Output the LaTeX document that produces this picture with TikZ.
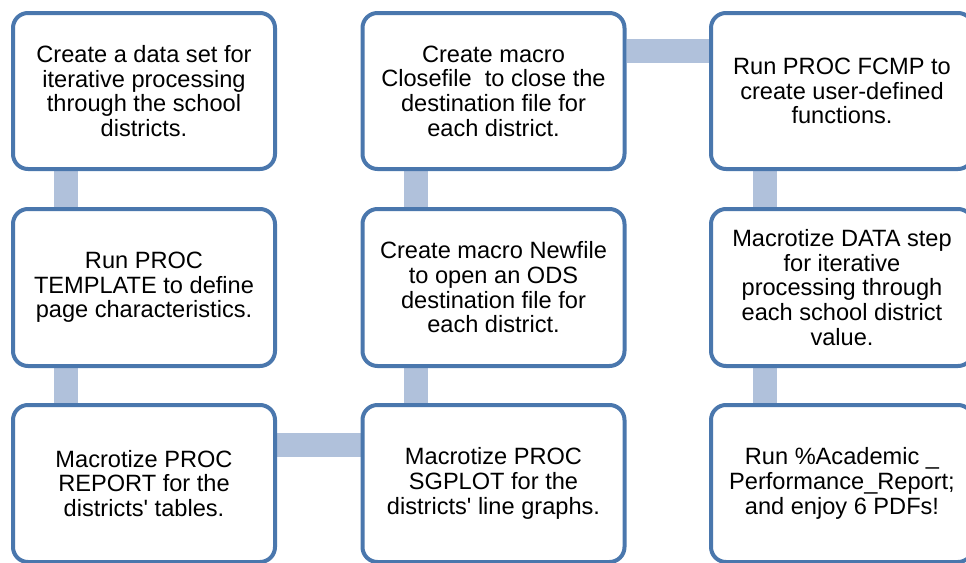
\documentclass[tikz,border=0pt]{standalone}
\usepackage{fontspec}
\setmainfont{Liberation Sans}[Ligatures=TeXOff]
\usetikzlibrary{backgrounds}
\definecolor{boxline}{HTML}{4A77AD}
\definecolor{connfill}{HTML}{B0C1DB}
\begin{document}
\begin{tikzpicture}[x=1pt,y=-1pt,
  stepbox/.style={draw=boxline, line width=4pt, fill=white, rounded corners=15pt,
    minimum width=262pt, minimum height=157pt, align=center, inner sep=0pt,
    font=\fontsize{23.6}{24.7}\selectfont},
  conn/.style={draw=connfill, line width=24pt}]
\useasboundingbox (0,0) rectangle (966,562);
\node[stepbox, minimum height=156pt] (b1) at (144,91) {Create a data set for\\iterative processing\\through the school\\districts.};
\node[stepbox] (b2) at (144,287.5) {Run PROC\\TEMPLATE to define\\page characteristics.};
\node[stepbox] (b3) at (144,483.5) {Macrotize PROC\\REPORT for the\\districts' tables.};
\node[stepbox] (b4) at (493.5,483.5) {Macrotize PROC\\SGPLOT for the\\districts' line graphs.};
\node[stepbox] (b5) at (493.5,287.5) {Create macro Newfile\\to open an ODS\\destination file for\\each district.};
\node[stepbox, minimum height=156pt] (b6) at (493.5,91) {Create macro\\Closefile\ \ to close the\\destination file for\\each district.};
\node[stepbox, minimum height=156pt] (b7) at (842,91) {Run PROC FCMP to\\create user-defined\\functions.};
\node[stepbox] (b8) at (842,287.5) {Macrotize DATA step\\for iterative\\processing through\\each school district\\value.};
\node[stepbox] (b9) at (842,483.5) {Run \%Academic \_\\Performance\_Report;\\and enjoy 6 PDFs!};
\begin{scope}[on background layer]
\draw[conn] ([xshift=-78pt]b1.south) -- ([xshift=-78pt]b2.north);
\draw[conn] ([xshift=-78pt]b2.south) -- ([xshift=-78pt]b3.north);
\draw[conn] ([yshift=38.5pt]b3.east) -- ([yshift=38.5pt]b4.west);
\draw[conn] ([xshift=-77.5pt]b4.north) -- ([xshift=-77.5pt]b5.south);
\draw[conn] ([xshift=-77.5pt]b5.north) -- ([xshift=-77.5pt]b6.south);
\draw[conn] ([yshift=40pt]b6.east) -- ([yshift=40pt]b7.west);
\draw[conn] ([xshift=-77pt]b7.south) -- ([xshift=-77pt]b8.north);
\draw[conn] ([xshift=-77pt]b8.south) -- ([xshift=-77pt]b9.north);
\end{scope}
\end{tikzpicture}
\end{document}
